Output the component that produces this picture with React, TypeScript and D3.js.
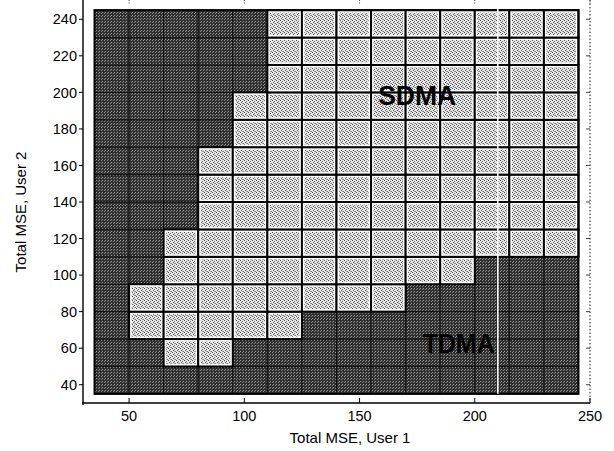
import React from "react";
import * as d3 from "d3";

// Cell centres of the MSE grid (each cell spans 15 units)
const mseUser1 = [42.5, 57.5, 72.5, 87.5, 102.5, 117.5, 132.5, 147.5, 162.5, 177.5, 192.5, 207.5, 222.5, 237.5];
const mseUser2 = [42.5, 57.5, 72.5, 87.5, 102.5, 117.5, 132.5, 147.5, 162.5, 177.5, 192.5, 207.5, 222.5, 237.5];
const cellStep = 15;

// 1 = SDMA preferred, 0 = TDMA preferred; rows ordered by User 2 MSE (low to high)
const sdmaRow0 = [0, 0, 0, 0, 0, 0, 0, 0, 0, 0, 0, 0, 0, 0];
const sdmaRow1 = [0, 0, 1, 1, 0, 0, 0, 0, 0, 0, 0, 0, 0, 0];
const sdmaRow2 = [0, 1, 1, 1, 1, 1, 0, 0, 0, 0, 0, 0, 0, 0];
const sdmaRow3 = [0, 1, 1, 1, 1, 1, 1, 1, 1, 0, 0, 0, 0, 0];
const sdmaRow4 = [0, 0, 1, 1, 1, 1, 1, 1, 1, 1, 1, 0, 0, 0];
const sdmaRow5 = [0, 0, 1, 1, 1, 1, 1, 1, 1, 1, 1, 1, 1, 1];
const sdmaRow6 = [0, 0, 0, 1, 1, 1, 1, 1, 1, 1, 1, 1, 1, 1];
const sdmaRow7 = [0, 0, 0, 1, 1, 1, 1, 1, 1, 1, 1, 1, 1, 1];
const sdmaRow8 = [0, 0, 0, 1, 1, 1, 1, 1, 1, 1, 1, 1, 1, 1];
const sdmaRow9 = [0, 0, 0, 0, 1, 1, 1, 1, 1, 1, 1, 1, 1, 1];
const sdmaRow10 = [0, 0, 0, 0, 1, 1, 1, 1, 1, 1, 1, 1, 1, 1];
const sdmaRow11 = [0, 0, 0, 0, 0, 1, 1, 1, 1, 1, 1, 1, 1, 1];
const sdmaRow12 = [0, 0, 0, 0, 0, 1, 1, 1, 1, 1, 1, 1, 1, 1];
const sdmaRow13 = [0, 0, 0, 0, 0, 1, 1, 1, 1, 1, 1, 1, 1, 1];
const sdmaRows = [
  sdmaRow0, sdmaRow1, sdmaRow2, sdmaRow3, sdmaRow4, sdmaRow5, sdmaRow6,
  sdmaRow7, sdmaRow8, sdmaRow9, sdmaRow10, sdmaRow11, sdmaRow12, sdmaRow13,
];

const xTicks = [50, 100, 150, 200, 250];
const yTicks = [40, 60, 80, 100, 120, 140, 160, 180, 200, 220, 240];
const xDomain = [30, 250];
const yDomain = [30, 250];

// Region annotations [label, user1 MSE, user2 MSE (baseline)]
const regionLabels: [string, number, number][] = [
  ["SDMA", 175, 193],
  ["TDMA", 193, 57.5],
];
// Faint vertical streak across the plot, at this User 1 MSE
const streakAt = [210];

const W = 614;
const H = 451;
const FONT = "'Liberation Sans', Arial, Helvetica, sans-serif";

export default function App() {
  const x = d3.scaleLinear().domain(xDomain).range([83, 590]);
  const y = d3.scaleLinear().domain(yDomain).range([403, 1]);

  const cells: { c: number; r: number; sdma: boolean }[] = [];
  sdmaRows.forEach((row, r) => row.forEach((v, c) => cells.push({ c, r, sdma: v === 1 })));

  const cellRect = (c: number, r: number) => {
    const x0 = x(mseUser1[c] - cellStep / 2);
    const x1 = x(mseUser1[c] + cellStep / 2);
    const y0 = y(mseUser2[r] + cellStep / 2);
    const y1 = y(mseUser2[r] - cellStep / 2);
    return { x: x0, y: y0, w: x1 - x0, h: y1 - y0 };
  };

  const gx0 = x(mseUser1[0] - cellStep / 2);
  const gx1 = x(mseUser1[mseUser1.length - 1] + cellStep / 2);
  const gy0 = y(mseUser2[mseUser2.length - 1] + cellStep / 2);
  const gy1 = y(mseUser2[0] - cellStep / 2);

  return (
    <div style={{ position: "fixed", left: 0, top: 0, width: W, height: H, background: "#fff" }}>
      <svg width={W} height={H} style={{ display: "block" }} fontFamily={FONT}>
        <defs>
          <pattern id="darkTex" width="3" height="3" patternUnits="userSpaceOnUse">
            <rect width="3" height="3" fill="#2f2f2f" />
            <rect x="0" y="0" width="1" height="1" fill="#9c9c9c" />
            <rect x="2" y="1" width="1" height="1" fill="#8a8a8a" />
          </pattern>
          <pattern id="lightTex" width="4" height="4" patternUnits="userSpaceOnUse">
            <rect width="4" height="4" fill="#e6e6e6" />
            <rect x="0" y="0" width="1" height="1" fill="#4a4a4a" />
            <rect x="2" y="1" width="1" height="1" fill="#6a6a6a" />
            <rect x="1" y="2" width="1" height="1" fill="#5a5a5a" />
            <rect x="3" y="3" width="1" height="1" fill="#787878" />
            <rect x="2" y="3" width="1" height="1" fill="#a0a0a0" />
          </pattern>
        </defs>

        {/* TDMA cells */}
        {cells.filter((d) => !d.sdma).map((d) => {
          const b = cellRect(d.c, d.r);
          return (
            <rect key={`t${d.c}-${d.r}`} x={b.x} y={b.y} width={b.w} height={b.h}
              fill="url(#darkTex)" stroke="#111" strokeWidth={1} />
          );
        })}

        {/* SDMA cells */}
        {cells.filter((d) => d.sdma).map((d) => {
          const b = cellRect(d.c, d.r);
          const inset = 2.5;
          return (
            <g key={`s${d.c}-${d.r}`}>
              <rect x={b.x} y={b.y} width={b.w} height={b.h} fill="#fff" stroke="#000" strokeWidth={2} />
              <rect x={b.x + inset} y={b.y + inset} width={b.w - 2 * inset} height={b.h - 2 * inset}
                fill="url(#lightTex)" />
            </g>
          );
        })}

        {/* outline of the whole grid */}
        <rect x={gx0} y={gy0} width={gx1 - gx0} height={gy1 - gy0} fill="none" stroke="#000" strokeWidth={2} />

        {streakAt.map((v) => (
          <line key={v} x1={x(v)} x2={x(v)} y1={gy0 - 6} y2={gy1} stroke="#fff" strokeWidth={1.6} opacity={0.95} />
        ))}

        {regionLabels.map(([t, u1, u2]) => (
          <text key={t} x={x(u1)} y={y(u2)} textAnchor="middle" fontWeight="bold" fontSize={27}
            textLength={t === "SDMA" ? 78 : 72} lengthAdjust="spacingAndGlyphs" fill="#000">
            {t}
          </text>
        ))}

        {/* axes */}
        <line x1={83} x2={83} y1={0} y2={405} stroke="#000" strokeWidth={1.4} />
        <line x1={82} x2={590} y1={403} y2={403} stroke="#000" strokeWidth={1.4} />
        <line x1={590} x2={590} y1={0} y2={403} stroke="#333" strokeWidth={1.1} strokeDasharray="1.5,2" />

        {xTicks.map((t) => (
          <g key={`x${t}`}>
            <line x1={x(t)} x2={x(t)} y1={403} y2={398} stroke="#000" strokeWidth={1} />
            <line x1={x(t)} x2={x(t)} y1={0} y2={5} stroke="#444" strokeWidth={1} strokeDasharray="1,1.5" />
            <text x={x(t)} y={421} textAnchor="middle" fontSize={14.5} fill="#000">{t}</text>
          </g>
        ))}
        {yTicks.map((t) => (
          <g key={`y${t}`}>
            <line x1={79} x2={83} y1={y(t)} y2={y(t)} stroke="#000" strokeWidth={1} />
            <line x1={586} x2={590} y1={y(t)} y2={y(t)} stroke="#444" strokeWidth={1} />
            <text x={77} y={y(t)} dy="0.36em" textAnchor="end" fontSize={14.5} fill="#000">{t}</text>
          </g>
        ))}

        <text x={350} y={443} textAnchor="middle" fontSize={15} fill="#000">Total MSE, User 1</text>
        <text transform="translate(26,212) rotate(-90)" textAnchor="middle" fontSize={15} fill="#000">
          Total MSE, User 2
        </text>
      </svg>
    </div>
  );
}
